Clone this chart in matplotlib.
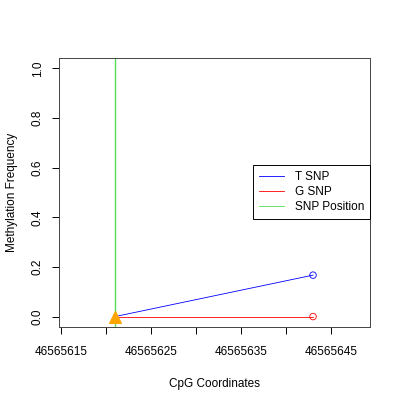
import matplotlib
matplotlib.use("Agg")
import matplotlib.pyplot as plt

plt.rcParams['font.family'] = ['Liberation Sans', 'DejaVu Sans']

# data
snp_pos = 46565621
cpg_x = [46565621, 46565643]
t_snp = [0.0, 0.167]
g_snp = [0.0, 0.0]
xticks = [46565615, 46565620, 46565625, 46565630, 46565635, 46565640, 46565645]
xticklabels = ["46565615", "", "46565625", "", "46565635", "", "46565645"]
yticks = [0.0, 0.2, 0.4, 0.6, 0.8, 1.0]

GREEN = "#55dd55"

fig = plt.figure(figsize=(4, 4), dpi=100)
ax = fig.add_axes([0.1475, 0.1825, 0.7775, 0.6725])

ax.axvline(snp_pos, color=GREEN, lw=1.0, label="SNP Position", zorder=1)
ax.plot(cpg_x, t_snp, color="blue", lw=0.6, zorder=2)
ax.plot(cpg_x, g_snp, color="red", lw=0.6, zorder=2)
ax.scatter(cpg_x[-1:], t_snp[-1:], s=22, facecolors="none", edgecolors="blue", linewidths=0.6, zorder=3)
ax.scatter(cpg_x[-1:], g_snp[-1:], s=22, facecolors="none", edgecolors="red", linewidths=0.6, zorder=3)
ax.scatter([snp_pos], [0.0], marker="^", s=70, color="orange", zorder=4)

ax.set_xlim(46565614.78, 46565649.33)
ax.set_ylim(-0.042, 1.042)
ax.set_xticks(xticks)
ax.set_xticklabels(xticklabels)
ax.set_yticks(yticks)
ax.set_yticklabels(["0.0", "0.2", "0.4", "0.6", "0.8", "1.0"], rotation=90, va="center")
ax.tick_params(axis="both", length=5, width=0.7, labelsize=8.5, pad=6)
ax.tick_params(axis="x", pad=9)
for s in ax.spines.values():
    s.set_linewidth(0.7)
    s.set_color("#444444")

ax.set_xlabel("CpG Coordinates", fontsize=8.5, labelpad=14)
ax.set_ylabel("Methylation Frequency", fontsize=8.5, labelpad=10)

from matplotlib.lines import Line2D
handles = [Line2D([0], [0], color="blue", lw=0.6),
           Line2D([0], [0], color="red", lw=0.6),
           Line2D([0], [0], color=GREEN, lw=0.6)]
leg = ax.legend(handles, ["T SNP", "G SNP", "SNP Position"], loc="center right",
                bbox_to_anchor=(1.0, 0.502), borderaxespad=0, fontsize=8.5,
                fancybox=False, framealpha=1, edgecolor="black",
                handlelength=2.1, handletextpad=0.9, labelspacing=0.25,
                borderpad=0.5)
leg.get_frame().set_linewidth(0.7)

fig.savefig("out.png", dpi=100)
